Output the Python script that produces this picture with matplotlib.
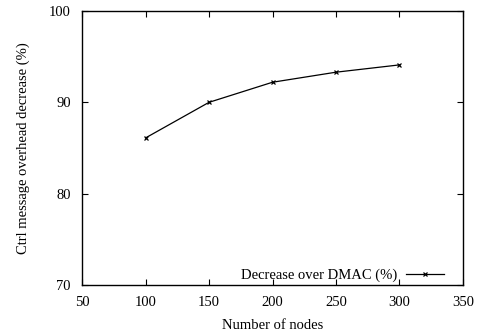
import matplotlib
matplotlib.use("Agg")
import matplotlib.pyplot as plt

nodes = [100, 150, 200, 250, 300]
decrease = [86.1, 90.0, 92.2, 93.3, 94.1]

xticks = [50, 100, 150, 200, 250, 300, 350]
yticks = [70, 80, 90, 100]

plt.rcParams["font.family"] = ["Liberation Serif", "DejaVu Serif"]
plt.rcParams["font.size"] = 10.5

fig = plt.figure(figsize=(4.79, 3.32), dpi=100)
ax = fig.add_axes([82 / 479, 1 - 285 / 332, (463 - 82) / 479, (285 - 11) / 332])

ax.plot(nodes, decrease, color="black", lw=0.9, marker="x", ms=3, mew=0.9,
        label="Decrease over DMAC (%)")

ax.set_xlim(50, 350)
ax.set_ylim(70, 100)
ax.set_xticks(xticks)
ax.set_yticks(yticks)
ax.tick_params(direction="in", top=True, right=True, length=4, width=0.8)
ax.tick_params(axis="x", pad=8)
ax.tick_params(axis="y", pad=8)
for s in ax.spines.values():
    s.set_linewidth(1.0)

ax.set_xlabel("Number of nodes", labelpad=7)
ax.set_ylabel("Ctrl message overhead decrease (%)", labelpad=14)

ax.legend(loc="lower right", frameon=False, markerfirst=False,
          handlelength=2.6, handletextpad=0.6, borderaxespad=0.2,
          bbox_to_anchor=(0.974, -0.022))

fig.savefig("out.png", dpi=100)
